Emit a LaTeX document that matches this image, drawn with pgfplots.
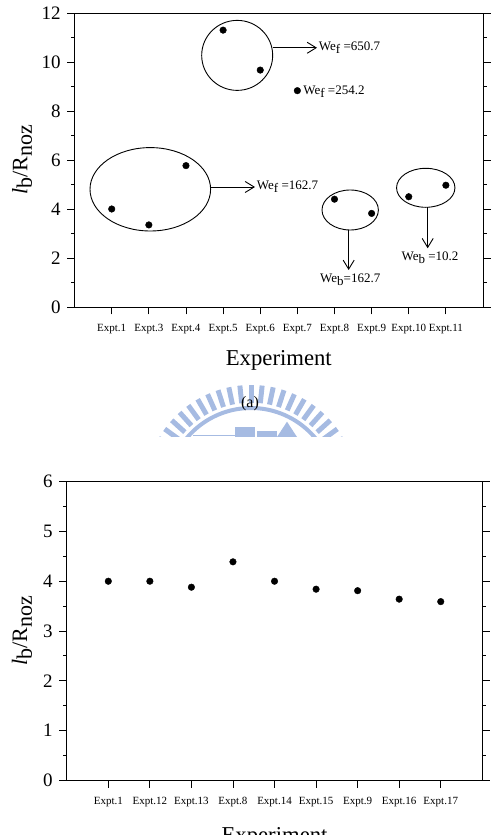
\documentclass[border=0pt]{standalone}
\usepackage{fontspec}
\setmainfont{Liberation Serif}
\usepackage{pgfplots}
\pgfplotsset{compat=1.18}
\usetikzlibrary{arrows.meta}

\definecolor{wm}{RGB}{166,187,226}
\newcommand{\sub}[1]{\raisebox{-0.45ex}{#1}}
\newcommand{\fs}[1]{\fontsize{#1}{#1}\selectfont}

\tikzset{
  ann/.style={line width=0.9pt},
  arr/.style={line width=0.9pt, -{Straight Barb[length=9pt,width=11pt]}},
  lab/.style={font=\fs{13}},
}

\pgfplotsset{
  expt/.style={
    scale only axis,
    clip=false,
    anchor=south west,
    axis line style={line width=0.9pt},
    every tick/.style={black, line width=0.9pt},
    tick align=outside,
    major tick length=7.5pt,
    minor tick length=3.5pt,
    xtick pos=left,
    ytick pos=both,
    yticklabel pos=left,
    minor y tick num=1,
    /pgf/number format/assume math mode=true,
    yticklabel style={font=\fs{19}, xshift=-3pt},
    xticklabel style={font=\fs{11}, anchor=base, yshift=-17pt},
    xlabel style={font=\fs{22.7}, at={(axis description cs:0.5,0)}, anchor=base},
    ylabel style={font=\fs{22}, anchor=center},
    ylabel={\textit{l}\sub{b}/R\sub{noz}},
    xlabel={Experiment},
  },
}

\begin{document}
\begin{tikzpicture}
\path[use as bounding box] (0,0) rectangle (498pt,835pt);

% ---------------- (a) ----------------
\begin{axis}[expt,
  at={(74.6pt,528pt)}, width=408.4pt, height=294pt,
  xmin=0, xmax=11, ymin=0, ymax=12,
  xtick={1,...,10},
  xticklabels={Expt.1,Expt.3,Expt.4,Expt.5,Expt.6,Expt.7,Expt.8,Expt.9,Expt.10,Expt.11},
  ytick={0,2,...,12},
  ylabel style={at={(axis description cs:-0.1288,0.5)}},
  xlabel style={yshift=-58.7pt},
]
\addplot[only marks, mark=*, mark size=3.3pt, black] table {
x y
1  4.00
2  3.35
3  5.77
4  11.30
5  9.67
6  8.83
7  4.40
8  3.82
9  4.50
10 4.97
};
% groups of experiments
\draw[ann] (axis cs:2.039,4.804) ellipse [x radius=60.3pt, y radius=41.7pt];
\draw[ann] (axis cs:4.379,10.27) ellipse [x radius=35.5pt, y radius=35pt];
\draw[ann] (axis cs:7.423,3.959) ellipse [x radius=28.2pt, y radius=20pt];
\draw[ann] (axis cs:9.458,4.865) ellipse [x radius=29.2pt, y radius=19.5pt];
% Weber numbers
\draw[arr] (axis cs:3.664,4.898) -- (axis cs:4.859,4.898);
\node[lab, anchor=west, inner sep=1pt] at (axis cs:4.88,4.898) {We\sub{f} =162.7};
\draw[arr] (axis cs:5.335,10.58) -- (axis cs:6.529,10.58);
\node[lab, anchor=west, inner sep=1pt] at (axis cs:6.55,10.58) {We\sub{f} =650.7};
\node[lab, anchor=west, inner sep=1pt] at (axis cs:6.13,8.78) {We\sub{f} =254.2};
\draw[arr] (axis cs:7.382,3.143) -- (axis cs:7.382,1.51);
\node[lab] at (axis cs:7.425,1.10) {We\sub{b}=162.7};
\draw[arr] (axis cs:9.51,4.07) -- (axis cs:9.51,2.396);
\node[lab] at (axis cs:9.572,2.02) {We\sub{b} =10.2};
\end{axis}

% ---------------- emblem ----------------
\begin{scope}[shift={(251pt,343.3pt)}]
\clip (-115pt,54.7pt) rectangle (115pt,120pt);
\foreach \a in {12,18,...,168}
  \draw[wm, line width=5pt] (\a:89pt) -- (\a:106.7pt);
\draw[wm, line width=4pt] (10:83.7pt) arc[start angle=10, end angle=170, radius=83.7pt];
\fill[wm] (-16pt,54.7pt) rectangle (4pt,64.7pt);
\fill[wm] (6pt,54.7pt) rectangle (26pt,60.5pt);
\fill[wm] (26pt,54.7pt) -- (36pt,70pt) -- (46pt,54.7pt) -- cycle;
\draw[wm, line width=1pt] (-58pt,55.7pt) -- (-16pt,55.7pt);
\end{scope}
\node[anchor=base, font=\fs{16}] at (250pt,427.5pt) {(a)};

% ---------------- (b) ----------------
\begin{axis}[expt,
  at={(66.75pt,54.7pt)}, width=415.55pt, height=298.6pt,
  xmin=0, xmax=10, ymin=0, ymax=6,
  xtick={1,...,9},
  xticklabels={Expt.1,Expt.12,Expt.13,Expt.8,Expt.14,Expt.15,Expt.9,Expt.16,Expt.17},
  ytick={0,...,6},
  ylabel style={at={(axis description cs:-0.1077,0.5)}},
  xlabel style={yshift=-61.7pt},
]
\addplot[only marks, mark=*, mark size=3.3pt, black] table {
x y
1 4.00
2 4.00
3 3.88
4 4.39
5 4.00
6 3.84
7 3.81
8 3.64
9 3.59
};
\end{axis}
\end{tikzpicture}
\end{document}
